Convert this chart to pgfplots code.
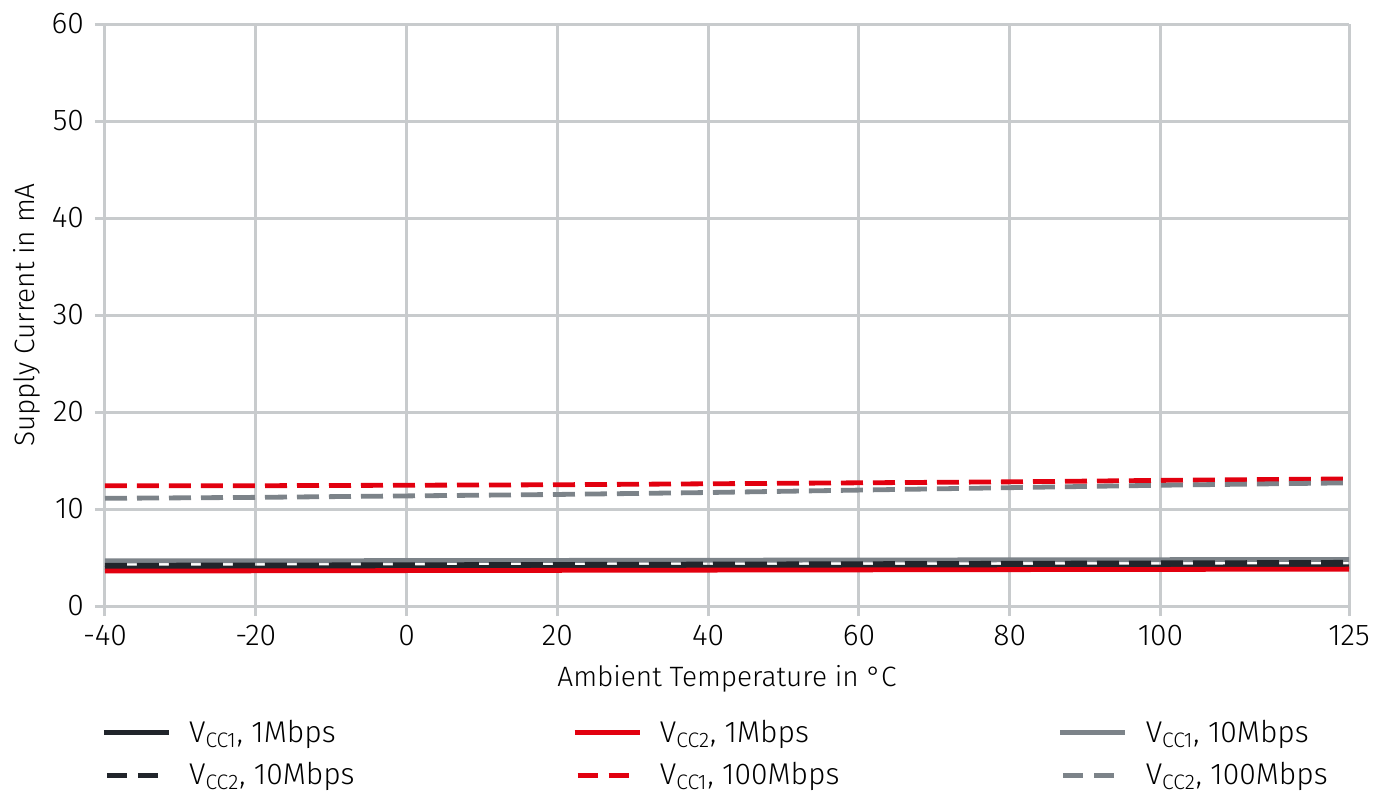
\documentclass[border=0pt]{standalone}
\usepackage{fontspec}
\setmainfont{Fira Sans}[UprightFont=* Light]
\usepackage{pgfplots}
\pgfplotsset{compat=1.18}
\definecolor{cdark}{RGB}{33,37,43}
\definecolor{cred}{RGB}{226,0,15}
\definecolor{cgray}{RGB}{124,131,137}
\definecolor{cgrid}{RGB}{200,203,205}
\newcommand{\lta}[1]{\makebox[189.5pt][l]{#1}}
\newcommand{\ltb}[1]{\makebox[197pt][l]{#1}}
\begin{document}
\begin{tikzpicture}
\useasboundingbox (-52.5pt,-94pt) rectangle (642pt,303pt);
\begin{axis}[
  at={(0,0)}, anchor=south west,
  scale only axis, width=622pt, height=291pt,
  xmin=-40, xmax=125, ymin=0, ymax=60,
  xtick={-40,-20,0,20,40,60,80,100,125},
  xticklabels={-40,-20,0,20,40,60,80,100,125},
  ytick={0,10,20,30,40,50,60},
  yticklabels={0,10,20,30,40,50,60},
  axis lines=left, axis line style={-, cgrid, line width=1.5pt},
  grid=major, major grid style={cgrid, line width=1.5pt},
  tick align=outside, major tick length=5pt,
  tick style={cgrid, line width=1.5pt},
  ticklabel style={font=\fontsize{15}{18}\selectfont, text=black},
  xticklabel style={yshift=-1pt},
  yticklabel style={xshift=-2pt},
  xlabel={Ambient Temperature in °C},
  ylabel={Supply Current in mA},
  label style={font=\fontsize{14}{17}\selectfont},
  xlabel style={yshift=-3pt},
  ylabel style={yshift=-1pt},
  clip=false,
  legend columns=3,
  legend style={at={(-2pt,-74pt)}, anchor=west, draw=none, fill=none,
    font=\fontsize{15}{18}\selectfont, row sep=4.5pt, inner sep=0pt,
    nodes={inner sep=2pt},
    /tikz/every odd column/.style={column sep=7pt}},
  legend cell align=left,
  legend image code/.code={\draw[#1] (0pt,0pt) -- (32.5pt,0pt);},
]
\addplot[cdark, line width=2.4pt] coordinates {(-40,3.9) (0,3.95) (40,4.0) (80,4.0) (125,4.05)};
\addlegendentry{\lta{V\textsubscript{CC1}, 1Mbps}}
\addplot[cred, line width=2.4pt] coordinates {(-40,3.6) (0,3.65) (40,3.7) (80,3.75) (125,3.8)};
\addlegendentry{\ltb{V\textsubscript{CC2}, 1Mbps}}
\addplot[cgray, line width=2.4pt] coordinates {(-40,4.65) (0,4.68) (40,4.72) (80,4.76) (125,4.8)};
\addlegendentry{V\textsubscript{CC1}, 10Mbps}
\addplot[cdark, line width=2.4pt, dash pattern=on 11pt off 5pt, legend image post style={dash pattern=on 10pt off 5.5pt, dash phase=-1.5pt}] coordinates {(-40,4.2) (0,4.25) (40,4.32) (80,4.4) (125,4.5)};
\addlegendentry{\lta{V\textsubscript{CC2}, 10Mbps}}
\addplot[cred, line width=2.4pt, dash pattern=on 11pt off 5pt, legend image post style={dash pattern=on 10pt off 5.5pt, dash phase=-1.5pt}] coordinates {(-40,12.4) (-20,12.4) (0,12.45) (20,12.5) (40,12.6) (60,12.7) (80,12.8) (100,12.95) (125,13.1)};
\addlegendentry{\ltb{V\textsubscript{CC1}, 100Mbps}}
\addplot[cgray, line width=2.4pt, dash pattern=on 11pt off 5pt, legend image post style={dash pattern=on 10pt off 5.5pt, dash phase=-1.5pt}] coordinates {(-40,11.1) (-20,11.2) (0,11.35) (20,11.5) (40,11.7) (60,11.95) (80,12.2) (100,12.45) (125,12.7)};
\addlegendentry{V\textsubscript{CC2}, 100Mbps}
\end{axis}
\end{tikzpicture}
\end{document}
